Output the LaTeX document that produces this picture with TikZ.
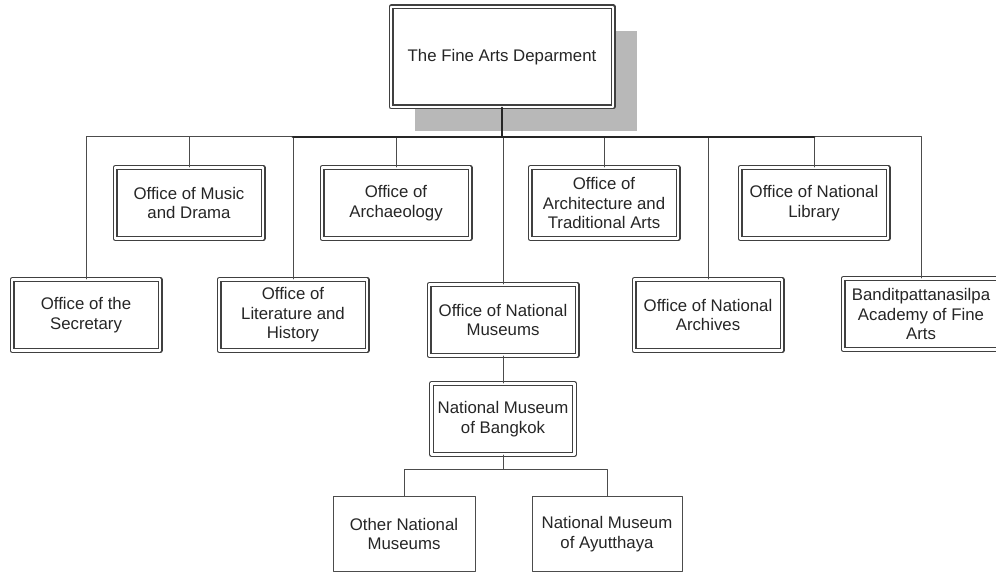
\documentclass[tikz,border=0pt]{standalone}
\usepackage{fontspec}
\setmainfont{Liberation Sans}
\usetikzlibrary{shadows}
\begin{document}
\begin{tikzpicture}[line cap=round,line join=round,x=0.5pt,y=-0.5pt,
  unit/.style={draw=black!75,line width=0.55pt,double=white,double distance=1.4pt,
    fill=white,align=center,inner sep=1pt,minimum width=74pt,minimum height=35.5pt,
    text=black!85,font=\fontsize{8.4}{9.8}\selectfont},
  leaf/.style={draw=black!70,line width=0.5pt,fill=white,align=center,inner sep=1pt,
    minimum height=37.5pt,text=black!85,font=\fontsize{8.4}{9.8}\selectfont},
  conn/.style={draw=black!70,line width=0.5pt}]
\useasboundingbox (0,0) rectangle (996,572);
\clip (0,0) rectangle (996,572);
% head of the department
\node[unit,minimum width=111pt,minimum height=50pt,
  drop shadow={shadow xshift=12pt,shadow yshift=-12pt,fill=black!28,opacity=1}]
  (fad) at (502,57) {The Fine Arts Deparment};
% upper row
\node[unit] (music) at (189,203) {Office of Music\\and Drama};
\node[unit] (archaeo) at (396,203) {Office of\\Archaeology};
\node[unit] (archi) at (604,203) {Office of\\Architecture and\\Traditional Arts};
\node[unit] (library) at (814,203) {Office of National\\Library};
% lower row
\node[unit] (secretary) at (86,315) {Office of the\\Secretary};
\node[unit] (litera) at (293,315) {Office of\\Literature and\\History};
\node[unit] (museums) at (503,320) {Office of National\\Museums};
\node[unit] (archives) at (708,315) {Office of National\\Archives};
\node[unit,minimum width=78pt] (academy) at (921,314) {Banditpattanasilpa\\Academy of Fine\\Arts};
% museums
\node[unit,minimum width=71.5pt] (bangkok) at (503,419) {National Museum\\of Bangkok};
\node[leaf,minimum width=71pt] (other) at (404,534) {Other National\\Museums};
\node[leaf,minimum width=75pt] (ayut) at (607,534) {National Museum\\of Ayutthaya};
% connectors
\coordinate (bar) at (0,137);
\coordinate (split) at (0,469);
\foreach \n in {secretary,music,litera,archaeo,museums,archi,archives,library,academy}
{
\draw[conn] (fad.south |- bar) -| (\n.north);
}
\draw[conn,line width=1.4pt,draw=black!85] (litera.north |- bar) -- (library.north |- bar);
\draw[conn,line width=1pt,draw=black!85] (fad.south) -- (fad.south |- bar);
\draw[conn] (museums.south) -- (bangkok.north);
\draw[conn] (bangkok.south) -- (bangkok.south |- split) -| (other.north);
\draw[conn] (bangkok.south |- split) -| (ayut.north);
\end{tikzpicture}
\end{document}
